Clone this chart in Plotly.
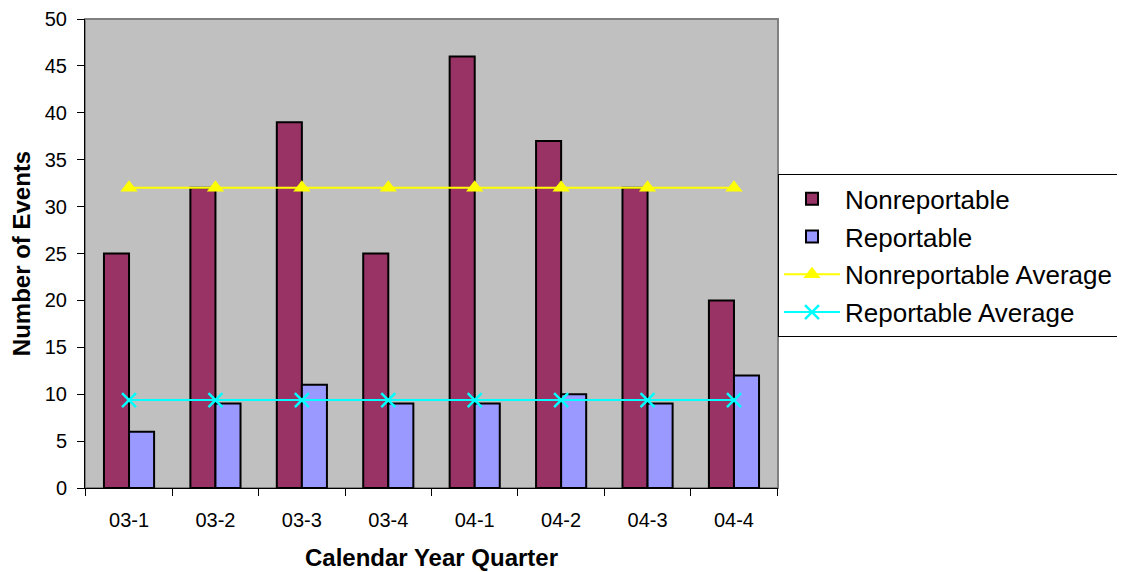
import plotly.graph_objects as go

quarters = ["03-1", "03-2", "03-3", "03-4", "04-1", "04-2", "04-3", "04-4"]
nonreportable = [25, 32, 39, 25, 46, 37, 32, 20]
reportable = [6, 9, 11, 9, 9, 10, 9, 12]
nonreportable_avg = [32, 32, 32, 32, 32, 32, 32, 32]
reportable_avg = [9.375, 9.375, 9.375, 9.375, 9.375, 9.375, 9.375, 9.375]

FONT = "Liberation Sans, Arial, sans-serif"

fig = go.Figure()
fig.add_trace(go.Bar(x=quarters, y=nonreportable, name="Nonreportable", legendgroup="a",
                     marker=dict(color="#993366", line=dict(color="black", width=2))))
fig.add_trace(go.Bar(x=quarters, y=reportable, name="Reportable", legendgroup="b",
                     marker=dict(color="#9999FF", line=dict(color="black", width=2))))
fig.add_trace(go.Scatter(x=quarters, y=nonreportable_avg, name="Nonreportable Average",
                         legendgroup="c", mode="lines+markers",
                         line=dict(color="#FFFF00", width=2),
                         marker=dict(symbol="triangle-up", size=15, color="#FFFF00")))
fig.add_trace(go.Scatter(x=quarters, y=reportable_avg, name="Reportable Average",
                         legendgroup="d", mode="lines+markers",
                         line=dict(color="#00FFFF", width=2),
                         marker=dict(symbol="x-thin-open", size=14,
                                     line=dict(color="#00FFFF", width=2.5))))

fig.update_layout(
    width=1125, height=572,
    margin=dict(l=77, r=355, t=11, b=92),
    paper_bgcolor="white",
    plot_bgcolor="#C0C0C0",
    barmode="group",
    bargap=0.42,
    bargroupgap=0,
    font=dict(family=FONT, color="black", size=20),
    showlegend=True,
    legend=dict(
        x=1.0, y=0.669, xanchor="left", yanchor="top",
        bgcolor="white", bordercolor="black", borderwidth=1,
        font=dict(size=26, family=FONT),
        itemwidth=56,
        traceorder="grouped",
        tracegroupgap=1,
    ),
)

fig.update_xaxes(
    type="category",
    automargin=False,
    showgrid=False, zeroline=False,
    showline=True, linecolor="black", linewidth=1,
    ticks="outside", tickson="boundaries", ticklen=7, tickcolor="black",
    ticklabelstandoff=14,
    ticklabeloverflow="allow",
    tickfont=dict(size=20),
    title=dict(text="<b>Calendar Year Quarter</b>", font=dict(size=24), standoff=19),
)
fig.update_yaxes(
    range=[0, 50], dtick=5,
    automargin=False,
    showgrid=False, zeroline=False,
    showline=True, linecolor="black", linewidth=1,
    ticks="outside", ticklen=7, tickcolor="black",
    ticklabelstandoff=6,
    ticklabeloverflow="allow",
    tickfont=dict(size=20),
    title=dict(text="<b>Number of Events</b>", font=dict(size=24), standoff=16),
)

# gray plot-area border
fig.add_shape(type="rect", xref="paper", yref="paper", x0=0, x1=1, y0=0, y1=1,
              line=dict(color="#808080", width=2), layer="below")

fig.write_html("out.html")
